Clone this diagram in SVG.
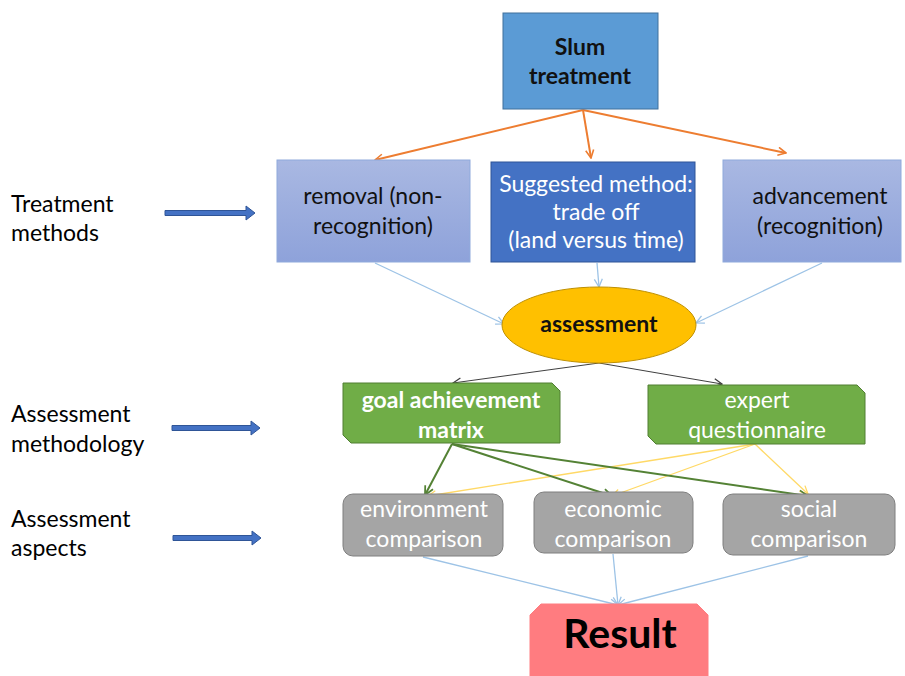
<svg xmlns="http://www.w3.org/2000/svg" width="905" height="676" viewBox="0 0 905 676">
<defs>
<style>
text{font-family:Lato,"Liberation Sans",sans-serif;text-anchor:middle}
.lbl{font-size:23px;fill:#000;text-anchor:start}
.dk{font-size:23px;fill:#111}
.wt{font-size:23px;fill:#fff}
.b{font-weight:bold}
.lt{fill:url(#lg);stroke:#8FAADC;stroke-width:1}
.gr{fill:#A5A5A5;stroke:#7F7F7F;stroke-width:1}
.gn{fill:#70AD47;stroke:#507E32;stroke-width:1}
.c{fill:none}
</style>
<linearGradient id="lg" x1="0" y1="0" x2="0" y2="1">
<stop offset="0" stop-color="#A9B8E2"/>
<stop offset="1" stop-color="#8EA2DA"/>
</linearGradient>
<marker id="mo" viewBox="0 0 10 10" refX="9" refY="5" markerWidth="10" markerHeight="10" markerUnits="userSpaceOnUse" orient="auto"><path d="M1,1 L9,5 L1,9" fill="none" stroke="#ED7D31" stroke-width="1.6"/></marker>
<marker id="mb" viewBox="0 0 10 10" refX="9" refY="5" markerWidth="10" markerHeight="10" markerUnits="userSpaceOnUse" orient="auto"><path d="M1,1 L9,5 L1,9" fill="none" stroke="#9DC3E6" stroke-width="1.3"/></marker>
<marker id="mk" viewBox="0 0 10 10" refX="9" refY="5" markerWidth="10" markerHeight="10" markerUnits="userSpaceOnUse" orient="auto"><path d="M1,1 L9,5 L1,9" fill="none" stroke="#404040" stroke-width="1.3"/></marker>
<marker id="mg" viewBox="0 0 10 10" refX="9" refY="5" markerWidth="11" markerHeight="11" markerUnits="userSpaceOnUse" orient="auto"><path d="M1,1 L9,5 L1,9" fill="none" stroke="#548235" stroke-width="1.6"/></marker>
<marker id="my" viewBox="0 0 10 10" refX="9" refY="5" markerWidth="10" markerHeight="10" markerUnits="userSpaceOnUse" orient="auto"><path d="M1,1 L9,5 L1,9" fill="none" stroke="#FFD966" stroke-width="1.3"/></marker>
</defs>
<rect width="905" height="676" fill="#fff"/>

<g id="connectors">
<g stroke="#ED7D31" stroke-width="2" class="c">
<line x1="583" y1="110" x2="375" y2="160" marker-end="url(#mo)"/>
<line x1="583" y1="110" x2="591" y2="158" marker-end="url(#mo)"/>
<line x1="583" y1="110" x2="786" y2="153" marker-end="url(#mo)"/>
</g>
<g stroke="#9DC3E6" stroke-width="1.3" class="c">
<line x1="375" y1="263" x2="504" y2="324" marker-end="url(#mb)"/>
<line x1="597" y1="263" x2="599" y2="287" marker-end="url(#mb)"/>
<line x1="822" y1="263" x2="696" y2="323" marker-end="url(#mb)"/>
<line x1="423" y1="557" x2="618" y2="605" marker-end="url(#mb)"/>
<line x1="613" y1="554" x2="618" y2="605" marker-end="url(#mb)"/>
<line x1="808" y1="556" x2="618" y2="605" marker-end="url(#mb)"/>
</g>
<g stroke="#404040" stroke-width="1" class="c">
<line x1="599" y1="363" x2="453" y2="383" marker-end="url(#mk)"/>
<line x1="599" y1="363" x2="722" y2="384" marker-end="url(#mk)"/>
</g>
<g stroke="#FFD966" stroke-width="1.3" class="c">
<line x1="755" y1="444" x2="428" y2="496" marker-end="url(#my)"/>
<line x1="755" y1="444" x2="612" y2="496" marker-end="url(#my)"/>
<line x1="755" y1="444" x2="808" y2="494" marker-end="url(#my)"/>
</g>
<g stroke="#548235" stroke-width="2" class="c">
<line x1="452" y1="444" x2="425" y2="495" marker-end="url(#mg)"/>
<line x1="452" y1="444" x2="612" y2="496" marker-end="url(#mg)"/>
<line x1="452" y1="444" x2="808" y2="496" marker-end="url(#mg)"/>
</g>
<g fill="#4472C4" stroke="#2F5597" stroke-width="1">
<path d="M165,210.5 H246 V206 L255,213 L246,220 V215.5 H165 Z"/>
<path d="M172,425.5 H251 V421 L260,428 L251,435 V430.5 H172 Z"/>
<path d="M173,535.5 H252 V531 L261,538 L252,545 V540.5 H173 Z"/>
</g>
</g>

<g id="label-treatment"><text class="lbl" x="11" y="212">Treatment</text><text class="lbl" x="11" y="241">methods</text></g>
<g id="label-methodology"><text class="lbl" x="11" y="422">Assessment</text><text class="lbl" x="11" y="452">methodology</text></g>
<g id="label-aspects"><text class="lbl" x="11" y="527">Assessment</text><text class="lbl" x="11" y="556">aspects</text></g>

<g id="slum"><rect x="503" y="13" width="155" height="96" fill="#5B9BD5" stroke="#41719C"/>
<text class="dk b" x="580" y="55">Slum</text><text class="dk b" x="580" y="84">treatment</text></g>

<g id="removal"><rect class="lt" x="277" y="160" width="193" height="102"/>
<text class="dk" x="373" y="204">removal (non-</text><text class="dk" x="373" y="234">recognition)</text></g>

<g id="suggested"><rect x="491" y="162" width="204" height="100" fill="#4472C4" stroke="#2F5597"/>
<text class="wt" x="596" y="192">Suggested method:</text><text class="wt" x="596" y="220">trade off</text><text class="wt" x="596" y="248">(land versus time)</text></g>

<g id="advancement"><rect class="lt" x="723" y="160" width="178" height="102"/>
<text class="dk" x="820" y="204">advancement</text><text class="dk" x="820" y="234">(recognition)</text></g>

<g id="assessment"><ellipse cx="599" cy="325" rx="97" ry="38" fill="#FFC000" stroke="#BF9000"/>
<text class="dk b" x="599" y="332">assessment</text></g>

<g id="goal"><path class="gn" d="M343,383 H552 L560,391 V443 H351 L343,435 Z"/>
<text class="wt b" x="451" y="408">goal achievement</text><text class="wt b" x="451" y="438">matrix</text></g>

<g id="expert"><path class="gn" d="M648,385 H857 L865,393 V444 H656 L648,436 Z"/>
<text class="wt" x="757" y="408">expert</text><text class="wt" x="757" y="438">questionnaire</text></g>

<g id="environment"><rect class="gr" x="343" y="494" width="160" height="62" rx="10"/>
<text class="wt" x="424" y="517">environment</text><text class="wt" x="424" y="547">comparison</text></g>

<g id="economic"><rect class="gr" x="534" y="492" width="159" height="61" rx="10"/>
<text class="wt" x="613" y="517">economic</text><text class="wt" x="613" y="547">comparison</text></g>

<g id="social"><rect class="gr" x="723" y="494" width="172" height="61" rx="10"/>
<text class="wt" x="809" y="517">social</text><text class="wt" x="809" y="547">comparison</text></g>

<g id="result"><path d="M541,604 H697 L708,615 V680 H530 V615 Z" fill="#FF7C80" stroke="#FF7C80"/>
<text class="b" x="620" y="648" style="font-size:41px;fill:#000">Result</text></g>
</svg>
